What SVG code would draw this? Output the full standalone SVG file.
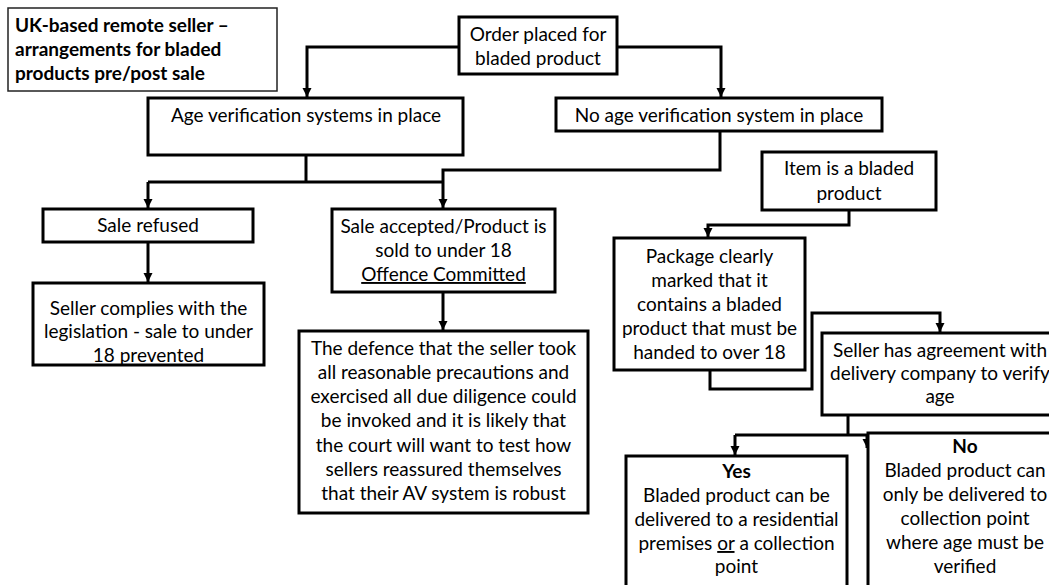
<svg xmlns="http://www.w3.org/2000/svg" width="1049" height="585" viewBox="0 0 1049 585">
<defs>
<style>
.box{fill:#fff;stroke:#000;stroke-width:3}
.tbox{fill:#fff;stroke:#222;stroke-width:1.5}
.t{font-family:Lato,"Liberation Sans",sans-serif;font-size:19px;fill:#000;text-anchor:middle}
.b{font-weight:bold}
.title{font-family:Lato,"Liberation Sans",sans-serif;font-size:19px;font-weight:bold;fill:#000}
.c{fill:none;stroke:#000;stroke-width:3}
.u{text-decoration:underline}
</style>
<marker id="ah" markerUnits="userSpaceOnUse" markerWidth="10" markerHeight="10" refX="9" refY="5" orient="auto">
<path d="M0,0.5 L9,5 L0,9.5 z" fill="#000"/>
</marker>
</defs>
<rect width="1049" height="585" fill="#fff"/>

<g id="connectors">
<path class="c" d="M459,47 H307 V97" marker-end="url(#ah)"/>
<path class="c" d="M617,47 H721 V97" marker-end="url(#ah)"/>
<path class="c" d="M306,155 V182"/>
<path class="c" d="M148,182 H443"/>
<path class="c" d="M148,182 V208" marker-end="url(#ah)"/>
<path class="c" d="M720,131 V170 H443 V208" marker-end="url(#ah)"/>
<path class="c" d="M148,242 V282" marker-end="url(#ah)"/>
<path class="c" d="M443,292 V330" marker-end="url(#ah)"/>
<path class="c" d="M849,210 V225 H708 V237" marker-end="url(#ah)"/>
<path class="c" d="M710,370 V389 H812 V313 H940 V332" marker-end="url(#ah)"/>
<path class="c" d="M848,415 V435"/>
<path class="c" d="M735,435 H867"/>
<path class="c" d="M735,435 V455" marker-end="url(#ah)"/>
<path class="c" d="M867,435 V448" marker-end="url(#ah)"/>
</g>

<g id="title">
<rect class="tbox" x="8" y="8" width="269" height="83"/>
<text class="title" x="15" y="32">UK-based remote seller –</text>
<text class="title" x="15" y="56">arrangements for bladed</text>
<text class="title" x="15" y="80">products pre/post sale</text>
</g>

<g id="order">
<rect class="box" x="459" y="17" width="158" height="57"/>
<text class="t" x="538" y="41">Order placed for</text>
<text class="t" x="538" y="65">bladed product</text>
</g>

<g id="age-verification">
<rect class="box" x="148" y="98" width="315" height="57"/>
<text class="t" x="306" y="122">Age verification systems in place</text>
</g>

<g id="no-age-verification">
<rect class="box" x="556" y="98" width="326" height="33"/>
<text class="t" x="719" y="122">No age verification system in place</text>
</g>

<g id="sale-refused">
<rect class="box" x="43" y="209" width="210" height="33"/>
<text class="t" x="148" y="232">Sale refused</text>
</g>

<g id="seller-complies">
<rect class="box" x="33" y="283" width="231" height="82"/>
<text class="t" x="148.5" y="315">Seller complies with the</text>
<text class="t" x="148.5" y="338">legislation - sale to under</text>
<text class="t" x="148.5" y="362">18 prevented</text>
</g>

<g id="sale-accepted">
<rect class="box" x="332" y="209" width="223" height="83"/>
<text class="t" x="443.5" y="233">Sale accepted/Product is</text>
<text class="t" x="443.5" y="257">sold to under 18</text>
<text class="t u" x="443.5" y="281">Offence Committed</text>
</g>

<g id="defence">
<rect class="box" x="299" y="331" width="289" height="182"/>
<text class="t" x="443.5" y="355">The defence that the seller took</text>
<text class="t" x="443.5" y="379">all reasonable precautions and</text>
<text class="t" x="443.5" y="403">exercised all due diligence could</text>
<text class="t" x="443.5" y="427">be invoked and it is likely that</text>
<text class="t" x="443.5" y="452">the court will want to test how</text>
<text class="t" x="443.5" y="476">sellers reassured themselves</text>
<text class="t" x="443.5" y="500">that their AV system is robust</text>
</g>

<g id="item-bladed">
<rect class="box" x="762" y="152" width="174" height="58"/>
<text class="t" x="849" y="175">Item is a bladed</text>
<text class="t" x="849" y="200">product</text>
</g>

<g id="package-marked">
<rect class="box" x="614" y="238" width="191" height="132"/>
<text class="t" x="709.5" y="263">Package clearly</text>
<text class="t" x="709.5" y="287">marked that it</text>
<text class="t" x="709.5" y="311">contains a bladed</text>
<text class="t" x="709.5" y="335">product that must be</text>
<text class="t" x="709.5" y="359">handed to over 18</text>
</g>

<g id="seller-agreement">
<rect class="box" x="822" y="333" width="240" height="82"/>
<text class="t" x="940" y="357">Seller has agreement with</text>
<text class="t" x="940" y="380">delivery company to verify</text>
<text class="t" x="940" y="403">age</text>
</g>

<g id="yes">
<rect class="box" x="626" y="456" width="221" height="140"/>
<text class="t b" x="736.5" y="478">Yes</text>
<text class="t" x="736.5" y="502">Bladed product can be</text>
<text class="t" x="736.5" y="526">delivered to a residential</text>
<text class="t" x="736.5" y="550">premises <tspan class="u">or</tspan> a collection</text>
<text class="t" x="736.5" y="573">point</text>
</g>

<g id="no">
<rect class="box" x="868" y="433" width="200" height="170"/>
<text class="t b" x="965" y="453">No</text>
<text class="t" x="965" y="477">Bladed product can</text>
<text class="t" x="965" y="501">only be delivered to</text>
<text class="t" x="965" y="525">collection point</text>
<text class="t" x="965" y="549">where age must be</text>
<text class="t" x="965" y="573">verified</text>
</g>
</svg>
